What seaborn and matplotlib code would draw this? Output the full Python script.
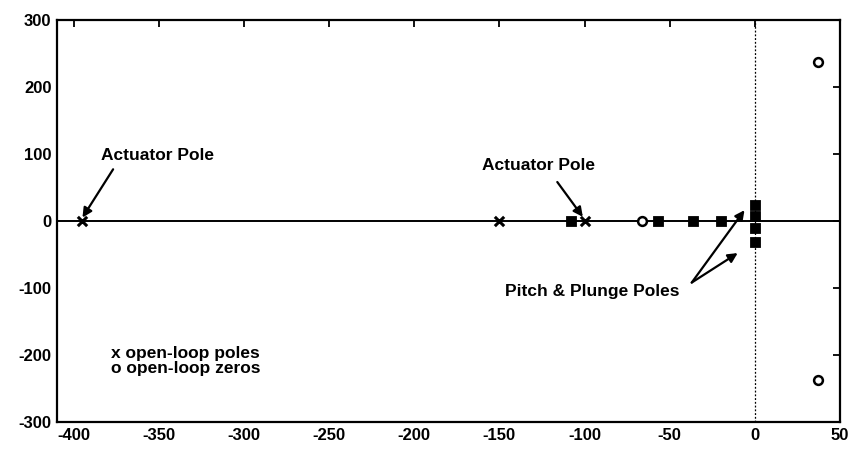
import matplotlib
matplotlib.use("Agg")
import matplotlib.pyplot as plt
import seaborn as sns
import pandas as pd

# Open-loop poles (x markers)
pole_re = [-395, -150, -100]
pole_im = [0, 0, 0]
# Open-loop zeros (o markers)
zero_re = [-66, 37, 37]
zero_im = [0, 237, -237]
# Closed-loop / locus points (filled markers)
cl_re = [-108, -57, -36, -20, 0, 0, 0, 0]
cl_im = [0, 0, 0, 0, 24, 8, -10, -32]

x_ticks = [-400, -350, -300, -250, -200, -150, -100, -50, 0, 50]
y_ticks = [-300, -200, -100, 0, 100, 200, 300]

sns.set_theme(style="white")
plt.rcParams['font.family'] = ['Liberation Sans', 'DejaVu Sans']

fig = plt.figure(figsize=(8.5, 4.72), dpi=100)
ax = fig.add_axes([0.067, 0.106, 0.921, 0.852])

# real axis line and imaginary axis
ax.axhline(0, color='black', lw=1.4, zorder=1)
ax.axvline(0, color='black', lw=0.9, ls=(0, (1.5, 1.5)), zorder=1)

poles = pd.DataFrame({'re': pole_re, 'im': pole_im})
zeros = pd.DataFrame({'re': zero_re, 'im': zero_im})
cl = pd.DataFrame({'re': cl_re, 'im': cl_im})

sns.scatterplot(data=cl, x='re', y='im', marker='s', s=55, color='black',
                edgecolor='black', ax=ax, zorder=3)
sns.scatterplot(data=poles, x='re', y='im', marker='x', s=45, color='black',
                linewidth=2.2, ax=ax, zorder=4)
sns.scatterplot(data=zeros, x='re', y='im', marker='o', s=40, facecolor='white',
                edgecolor='black', linewidth=1.8, ax=ax, zorder=4)

ax.set_xlim(-410, 50)
ax.set_ylim(-300, 300)
ax.set_xticks(x_ticks)
ax.set_yticks(y_ticks)
ax.set_xticklabels([str(t) for t in x_ticks])
ax.set_yticklabels([str(t) for t in y_ticks])
ax.set_xlabel('')
ax.set_ylabel('')
for s in ax.spines.values():
    s.set_color('black')
    s.set_linewidth(1.6)
ax.tick_params(direction='in', length=5, width=1.3, colors='black',
               top=True, right=True, labelsize=12, pad=4)
for lab in ax.get_xticklabels() + ax.get_yticklabels():
    lab.set_fontweight('bold')

arrow = dict(arrowstyle='-|>', color='black', lw=1.6, mutation_scale=14,
             shrinkA=0, shrinkB=0)
tkw = dict(fontsize=12.5, fontweight='bold', color='black')

ax.annotate('', xy=(-395, 5), xytext=(-377, 77), arrowprops=arrow)
ax.text(-384, 98, 'Actuator Pole', ha='left', va='center', **tkw)

ax.annotate('', xy=(-101, 6), xytext=(-116, 58), arrowprops=arrow)
ax.text(-160, 82, 'Actuator Pole', ha='left', va='center', **tkw)

ax.annotate('', xy=(-6, 16), xytext=(-37, -92), arrowprops=arrow)
ax.annotate('', xy=(-10, -48), xytext=(-37, -92), arrowprops=arrow)
ax.text(-147, -105, 'Pitch & Plunge Poles', ha='left', va='center', **tkw)

ax.text(-378, -198, 'x open-loop poles', ha='left', va='center', **tkw)
ax.text(-378, -220, 'o open-loop zeros', ha='left', va='center', **tkw)

fig.savefig('out.png', dpi=100)
